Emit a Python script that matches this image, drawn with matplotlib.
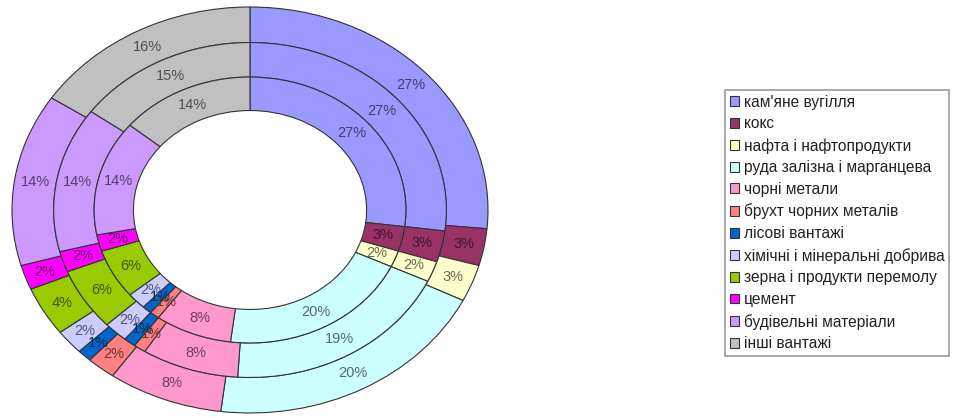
import numpy as np
import matplotlib.pyplot as plt
from matplotlib.colors import to_rgb
from matplotlib.patches import Patch

plt.rcParams['font.family'] = ['Liberation Sans', 'DejaVu Sans']

# категорії вантажів
categories = ["кам'яне вугілля", "кокс", "нафта і нафтопродукти",
              "руда залізна і марганцева", "чорні метали", "брухт чорних металів",
              "лісові вантажі", "хімічні і мінеральні добрива",
              "зерна і продукти перемолу", "цемент", "будівельні матеріали",
              "інші вантажі"]
colors = ['#9999FF', '#993366', '#FFFFCC', '#CCFFFF', '#FF99CC', '#FF8080',
          '#0066CC', '#CCCCFF', '#99CC00', '#FF00FF', '#CC99FF', '#C0C0C0']

# частки, % (внутрішнє, середнє, зовнішнє кільце)
inner = [27, 3, 2, 20, 8, 1, 1, 2, 6, 2, 14, 14]
middle = [27, 3, 2, 19, 8, 1, 1, 2, 6, 2, 14, 15]
outer = [27, 3, 3, 20, 8, 2, 1, 2, 4, 2, 14, 16]

fig = plt.figure(figsize=(9.61, 4.18), dpi=100)
ax = fig.add_axes([12 / 961, 5 / 418, 476 / 961, 406 / 418])

label_colors = [tuple(c * 0.42 for c in to_rgb(col)) for col in colors]

rings = [(outer, 1.0, 0.175), (middle, 0.825, 0.17), (inner, 0.655, 0.165)]
for vals, r, w in rings:
    wedges, _ = ax.pie(vals, radius=r, colors=colors, startangle=90,
                       counterclock=False,
                       wedgeprops=dict(width=w, edgecolor='#333333', linewidth=0.8))
    rm = r - w / 2
    for wd, v, lc in zip(wedges, vals, label_colors):
        ang = np.deg2rad((wd.theta1 + wd.theta2) / 2)
        ax.text(rm * np.cos(ang), rm * np.sin(ang), f'{v}%', ha='center',
                va='center', fontsize=10.5, color=lc)

ax.set_aspect('auto')
ax.set_xlim(-1, 1)
ax.set_ylim(-1, 1)
ax.axis('off')

handles = [Patch(facecolor=c, edgecolor='#333333', linewidth=0.8) for c in colors]
leg = fig.legend(handles, categories, loc='upper left',
                 bbox_to_anchor=(725 / 961, 1 - 90 / 418), fontsize=11.2,
                 frameon=True, fancybox=False, edgecolor='#808080',
                 handlelength=0.6, handleheight=0.6, handletextpad=0.3,
                 labelspacing=0.43, borderpad=0.3, borderaxespad=0)
leg.get_frame().set_linewidth(1.2)
for t in leg.get_texts():
    t.set_color('#222222')

fig.savefig('out.png', dpi=100)
